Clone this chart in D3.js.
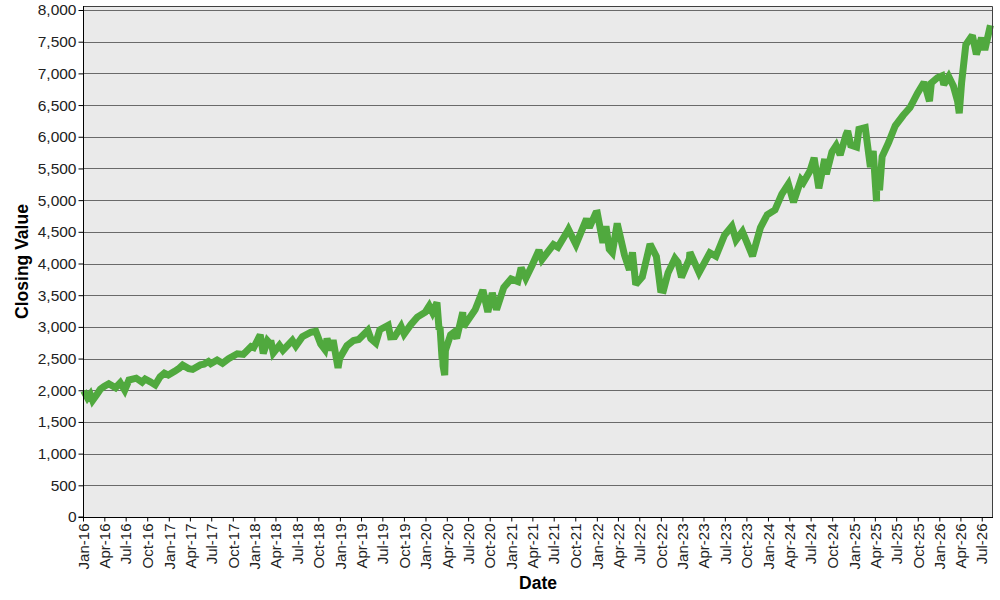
<!DOCTYPE html>
<html>
<head>
<meta charset="utf-8">
<script src="https://cdn.jsdelivr.net/npm/d3@7"></script>
<style>
  body { margin: 0; background: #ffffff; }
  svg { display: block; }
  text { font-family: Arial, "Liberation Sans", sans-serif; }
</style>
</head>
<body>
<svg id="chart" width="1000" height="600"></svg>
<script>
// ---- Data ----
const dates = [
 "2016-01-04","2016-01-20","2016-02-01","2016-02-11","2016-02-29","2016-03-15","2016-03-31","2016-04-20","2016-05-19","2016-06-08","2016-06-27","2016-07-15","2016-08-15","2016-09-09","2016-09-22","2016-10-14","2016-11-04","2016-11-25","2016-12-13","2016-12-30",
 "2017-01-26","2017-02-15","2017-03-01","2017-03-27","2017-04-13","2017-05-16","2017-05-31","2017-06-19","2017-06-29","2017-07-26","2017-08-18","2017-09-13","2017-10-20","2017-11-15","2017-12-18","2017-12-29",
 "2018-01-26","2018-02-08","2018-02-26","2018-03-08","2018-03-12","2018-03-23","2018-04-18","2018-05-03","2018-06-12","2018-06-27","2018-07-25","2018-08-29","2018-09-20","2018-10-11","2018-10-29","2018-11-07","2018-11-23","2018-12-03","2018-12-24","2018-12-31",
 "2019-01-31","2019-02-28","2019-03-22","2019-04-30","2019-05-13","2019-06-03","2019-06-20","2019-07-26","2019-08-05","2019-08-23","2019-09-19","2019-10-02","2019-10-31","2019-11-27","2019-12-31",
 "2020-01-17","2020-01-31","2020-02-19","2020-02-28","2020-03-03","2020-03-12","2020-03-13","2020-03-16","2020-03-23","2020-03-26","2020-04-17","2020-04-30","2020-05-13","2020-06-08","2020-06-11","2020-07-31","2020-09-02","2020-09-23","2020-10-12","2020-10-30","2020-11-30","2020-12-31",
 "2021-01-29","2021-02-12","2021-03-04","2021-03-31","2021-04-29","2021-05-12","2021-06-30","2021-07-19","2021-08-31","2021-09-02","2021-10-04","2021-11-18","2021-11-30","2021-12-27",
 "2022-01-03","2022-01-27","2022-02-09","2022-02-23","2022-03-08","2022-03-29","2022-04-29","2022-05-20","2022-06-02","2022-06-16","2022-07-14","2022-08-16","2022-09-12","2022-09-30","2022-10-12","2022-11-01","2022-11-30","2022-12-13","2022-12-28",
 "2023-01-31","2023-02-02","2023-03-13","2023-04-28","2023-05-24","2023-06-30","2023-07-31","2023-08-18","2023-09-14","2023-10-27","2023-11-30","2023-12-29",
 "2024-01-31","2024-02-29","2024-03-28","2024-04-19","2024-05-21","2024-05-31","2024-06-28","2024-07-16","2024-08-05","2024-08-30","2024-09-06","2024-09-30","2024-10-18","2024-11-04","2024-11-29","2024-12-06","2024-12-19",
 "2025-01-13","2025-01-23","2025-02-19","2025-03-13","2025-03-25","2025-04-08","2025-04-09","2025-04-21","2025-05-02","2025-05-30","2025-06-27","2025-07-31","2025-08-29","2025-09-30","2025-10-28","2025-11-20","2025-11-28","2025-12-24",
 "2026-01-12","2026-01-20","2026-02-10","2026-03-02","2026-03-20","2026-03-27","2026-04-06","2026-04-24","2026-05-22","2026-06-08","2026-06-30","2026-07-14","2026-08-07"
];
const closes = [
 1990,1880,1939,1840,1932,2015,2060,2102,2040,2119,2001,2161,2190,2128,2177,2133,2085,2213,2271,2239,
 2298,2349,2396,2342,2329,2400,2412,2453,2419,2477,2425,2498,2575,2565,2690,2674,
 2873,2581,2780,2739,2784,2588,2708,2630,2787,2699,2846,2914,2931,2728,2641,2814,2633,2790,2351,2507,
 2704,2784,2801,2946,2812,2744,2954,3026,2844,2847,3006,2887,3038,3154,3231,
 3330,3226,3386,2954,3003,2481,2711,2386,2237,2630,2875,2912,2820,3232,3002,3271,3580,3237,3535,3270,3622,3756,
 3714,3934,3768,3973,4211,4063,4298,4258,4523,4537,4300,4705,4567,4791,
 4796,4327,4587,4225,4170,4632,4132,3901,4176,3667,3790,4305,4110,3586,3577,3856,4080,4019,3783,
 4077,4179,3855,4169,4115,4450,4589,4370,4505,4117,4568,4770,
 4846,5096,5254,4967,5321,5278,5460,5667,5186,5648,5408,5762,5864,5712,6032,6090,5867,
 5836,6119,6144,5521,5777,4982,5457,5158,5687,5912,6173,6339,6460,6688,6860,6560,6849,6932,
 6960,6820,6950,6800,6560,6370,6850,7450,7600,7300,7560,7370,7760
];
const yTicks = [0,500,1000,1500,2000,2500,3000,3500,4000,4500,5000,5500,6000,6500,7000,7500,8000];
const xTitle = "Date";
const yTitle = "Closing Value";

// ---- Layout ----
const svg = d3.select("#chart");
const L = 83, R = 993, T = 6, B = 517;
const parse = d3.timeParse("%Y-%m-%d");
const data = dates.map((d, i) => ({ date: parse(d), value: closes[i] }));

const x = d3.scaleTime()
  .domain([parse("2016-01-01"), parse("2026-08-18")])
  .range([L, R]);
const y = d3.scaleLinear().domain([0, 8000]).range([B, 10]);

// plot background
svg.append("rect")
  .attr("x", L).attr("y", T).attr("width", R - L).attr("height", B - T)
  .attr("fill", "#eaeaea");

// gridlines
svg.append("g").selectAll("line").data(yTicks.filter(v => v > 0)).join("line")
  .attr("x1", L).attr("x2", R)
  .attr("y1", d => Math.round(y(d)) + 0.5).attr("y2", d => Math.round(y(d)) + 0.5)
  .attr("stroke", "#6a6a6a").attr("stroke-width", 1);

// line
const line = d3.line().x(d => x(d.date)).y(d => y(d.value));
svg.append("path").datum(data)
  .attr("d", line)
  .attr("fill", "none")
  .attr("stroke", "#50a93e")
  .attr("stroke-width", 7)
  .attr("stroke-linejoin", "miter")
  .attr("stroke-miterlimit", 2.5);

// frame (top and right)
svg.append("path")
  .attr("d", `M${L},${T + 0.5}H${R - 0.5}V${B}`)
  .attr("fill", "none").attr("stroke", "#404040").attr("stroke-width", 1);

// y axis
const yAxis = svg.append("g")
  .attr("transform", `translate(${L + 0.5},0)`)
  .call(d3.axisLeft(y).tickValues(yTicks).tickFormat(d3.format(",")).tickSize(5).tickPadding(2));
yAxis.select(".domain").attr("stroke", "#000").attr("d", `M-5,${B}H0V${T}`);
yAxis.selectAll(".tick line").attr("stroke", "#000");
yAxis.selectAll(".tick text").attr("font-size", "15.5px").attr("fill", "#222")
  .attr("font-family", "Arial, 'Liberation Sans', sans-serif");

// x axis
const xAxis = svg.append("g")
  .attr("transform", `translate(0,${B + 0.5})`)
  .call(d3.axisBottom(x).ticks(d3.timeMonth.every(3)).tickFormat(d3.timeFormat("%b-%y")).tickSize(4).tickPadding(2));
xAxis.select(".domain").attr("stroke", "#000").attr("d", `M${L},0H${R}`);
xAxis.selectAll(".tick line").attr("stroke", "#000");
xAxis.selectAll(".tick text")
  .attr("font-size", "15px").attr("fill", "#222")
  .attr("font-family", "Arial, 'Liberation Sans', sans-serif")
  .attr("text-anchor", "end")
  .attr("transform", "rotate(-90)")
  .attr("x", -6).attr("y", 0).attr("dy", "0.35em");

// axis titles
svg.append("text")
  .attr("x", (L + R) / 2).attr("y", 589)
  .attr("text-anchor", "middle")
  .attr("font-size", "17.5px").attr("font-weight", "bold").attr("fill", "#000")
  .text(xTitle);
svg.append("text")
  .attr("transform", `translate(28,${(T + B) / 2}) rotate(-90)`)
  .attr("text-anchor", "middle")
  .attr("font-size", "17.5px").attr("font-weight", "bold").attr("fill", "#000")
  .text(yTitle);
</script>
</body>
</html>
